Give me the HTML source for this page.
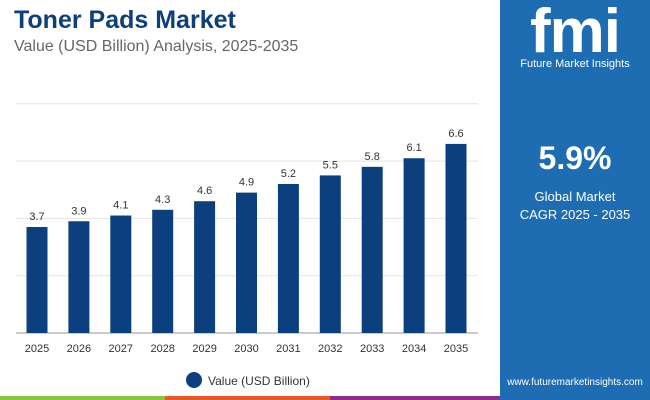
<!DOCTYPE html>
<html><head><meta charset="utf-8"><style>
body{margin:0;width:650px;height:400px;overflow:hidden;background:#fff;font-family:"Liberation Sans",sans-serif;position:relative}
.abs{position:absolute}
</style></head><body>
<div class="abs" style="left:14px;top:6px;font-size:25px;font-weight:bold;color:#0d3f7a">Toner Pads Market</div>
<div class="abs" style="left:14px;top:38px;font-size:16px;color:#666">Value (USD Billion) Analysis, 2025-2035</div>
<div class="abs" style="left:500px;top:0;width:150px;height:400px;background:#1e6db2"></div>
<div class="abs" style="left:500px;top:4px;width:150px;text-align:center;font-size:62px;font-weight:bold;color:#fff;line-height:56px;letter-spacing:-1px">fmi</div>
<div class="abs" style="left:500px;top:58px;width:150px;text-align:center;font-size:11px;color:#fff">Future Market Insights</div>
<div class="abs" style="left:500px;top:140px;width:150px;text-align:center;font-size:32px;font-weight:bold;color:#fff">5.9%</div>
<div class="abs" style="left:500px;top:188px;width:150px;text-align:center;font-size:13px;color:#fff;line-height:18px">Global Market<br>CAGR 2025 - 2035</div>
<div class="abs" style="left:500px;top:377px;width:150px;text-align:center;font-size:10px;color:#fff">www.futuremarketinsights.com</div>
<div class="abs" style="left:0;top:396px;width:165px;height:4px;background:#8bc53f"></div>
<div class="abs" style="left:165px;top:396px;width:165px;height:4px;background:#e8592a"></div>
<div class="abs" style="left:330px;top:396px;width:170px;height:4px;background:#8e2c8e"></div>
<svg class="abs" style="left:0;top:0" width="500" height="400">
<g id="g"></g>
<circle cx="194" cy="380" r="8" fill="#0b3f7e"/>
<text x="208" y="385" font-size="12" fill="#333">Value (USD Billion)</text>
</svg>
<script>
const categories=["2025","2026","2027","2028","2029","2030","2031","2032","2033","2034","2035"];
const values=[3.7,3.9,4.1,4.3,4.6,4.9,5.2,5.5,5.8,6.1,6.6];
const labels=["3.7","3.9","4.1","4.3","4.6","4.9","5.2","5.5","5.8","6.1","6.6"];
const gridTicks=[0,2,4,6,8];
const g=document.getElementById('g');const ns='http://www.w3.org/2000/svg';
const y=v=>333-v*28.65;const x=i=>37+i*41.9;
function mk(t,a){const e=document.createElementNS(ns,t);for(const k in a)e.setAttribute(k,a[k]);g.appendChild(e);return e;}
gridTicks.forEach(t=>{const l=mk('line',{x1:16,x2:478,y1:y(t),y2:y(t),stroke:t?'#e3e3e3':'#999','stroke-width':1});

});
values.forEach((v,i)=>{const r=mk('rect',{x:x(i)-10.5,y:y(v),width:21,height:333-y(v),fill:'#0b3f7e'});


const t=mk('text',{x:x(i),y:y(v)-7,'text-anchor':'middle','font-size':11,fill:'#333'});t.textContent=labels[i];


const c=mk('text',{x:x(i),y:352,'text-anchor':'middle','font-size':11,fill:'#333'});c.textContent=categories[i];

});
</script>
</body></html>
